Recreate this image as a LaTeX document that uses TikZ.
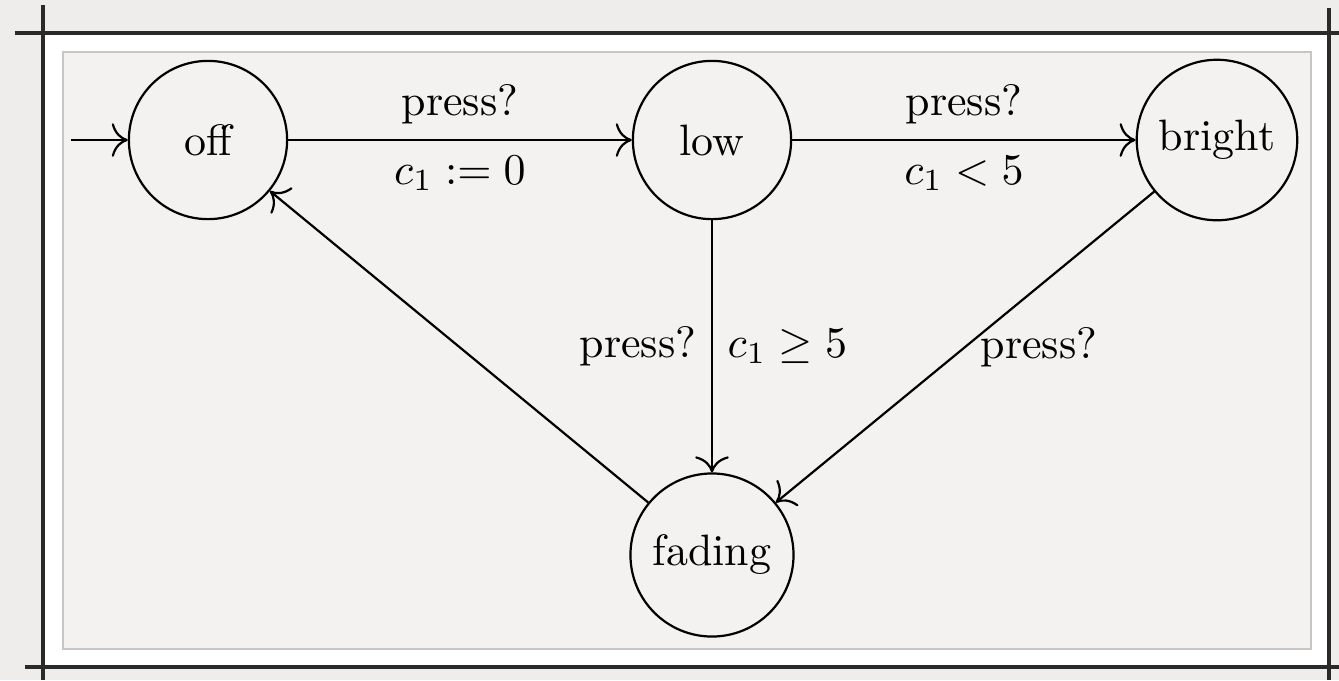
\documentclass[tikz,border=0pt]{standalone}
\usepackage{amsmath}
\usepackage{xcolor}
\usetikzlibrary{arrows.meta}
\definecolor{paperback}{HTML}{EEEDEB}
\definecolor{panelfill}{HTML}{F3F2F0}
\definecolor{panelrule}{HTML}{C6C6C6}
\definecolor{sketchink}{HTML}{2A2A2A}

\begin{document}
\begin{tikzpicture}[
  x=0.008cm,
  y=-0.008cm,
  >={To[scale=1.35]},
  line width=0.5pt,
  every node/.style={font=\normalsize},
  state/.style={circle, draw, minimum size=36pt, inner sep=3.33pt}
]
  % paper, frame and panel
  \useasboundingbox (0,0) rectangle (1339,680);
  \fill[paperback] (0,0) rectangle (1339,680);
  \fill[white] (45,35) rectangle (1327,665);
  \draw[panelrule, fill=panelfill, line width=0.4pt]
    (63,52) rectangle (1311,649);

  \draw[sketchink, line width=1.1pt] (15,33) -- (1339,33);
  \draw[sketchink, line width=1.1pt] (25,667) -- (1339,667);
  \draw[sketchink, line width=1pt] (43,5) -- (43,680);
  \draw[sketchink, line width=1pt] (1329,8) -- (1329,680);

  % states
  \node[state] (off) at (208,140) {off};
  \node[state] (low) at (712,140) {low};
  \node[state] (bright) at (1217,140) {bright};
  \node[state] (fading) at (712,555) {fading};
  \coordinate (start) at (71,140);

  % transitions
  \draw[->] (start) -- (off);
  \draw[->] (off) -- node[above] {press?} node[below] {$c_1 := 0$} (low);
  \draw[->] (low) -- node[above] {press?} node[below] {$c_1 < 5$} (bright);
  \draw[->] (low) -- node[left] {press?} node[right] {$c_1 \geq 5$} (fading);
  \draw[->] (bright) -- node[right] {press?} (fading);
  \draw[->] (fading) -- (off);
\end{tikzpicture}
\end{document}
